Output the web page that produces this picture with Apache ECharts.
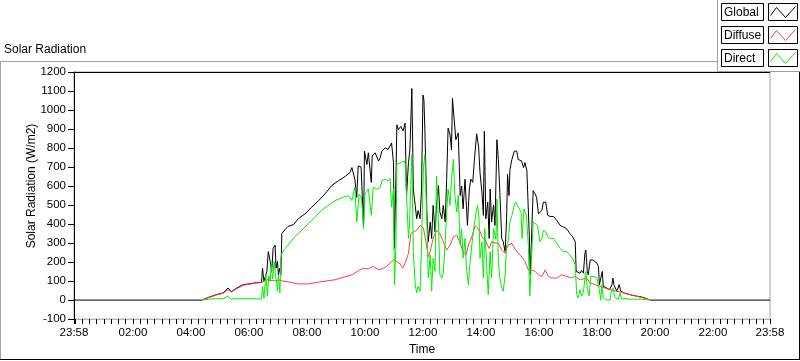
<!DOCTYPE html>
<html><head><meta charset="utf-8">
<script src="https://cdn.jsdelivr.net/npm/echarts@6/dist/echarts.min.js"></script>
<style>html,body{margin:0;padding:0;background:#fff}#c{width:800px;height:361px}</style>
</head><body><div id="c"></div><script>
// Time in minutes since midnight (-2 = 23:58 of previous day)
const globalTime = [-2,262,279,293,307,317,323,335,348,362,376,386,388,391,393,397,400,404,407,410,414,416,419,421,424,426,428,435,441,452,462,476,490,504,517,531,545,559,569,573,579,583,586,592,597,599,604,607,613,615,621,628,631,635,642,648,655,659,661,664,666,669,674,679,683,686,690,693,697,700,704,707,710,714,717,720,722,724,728,731,735,738,741,745,748,752,755,759,762,766,769,772,776,779,781,784,788,793,797,800,803,807,812,816,819,823,826,831,835,838,842,845,847,850,854,857,859,862,866,869,873,876,879,883,886,890,893,895,898,900,904,909,914,917,924,928,931,935,937,940,942,945,948,952,955,959,962,966,969,974,978,983,990,997,1004,1010,1017,1024,1030,1035,1037,1041,1045,1048,1052,1055,1057,1060,1062,1066,1072,1080,1083,1085,1088,1091,1093,1100,1106,1111,1113,1115,1121,1126,1129,1135,1142,1152,1162,1173,1183,1190,1438];
const globalValue = [0,0,17,29,38,64,43,64,81,86,92,93,168,100,107,151,255,203,151,272,289,168,204,133,168,133,350,372,388,397,428,454,489,523,558,602,628,650,671,697,636,541,706,700,385,784,714,775,619,758,775,732,745,784,801,792,827,723,272,636,922,896,914,890,931,550,723,792,1113,584,498,428,471,428,584,1079,1052,896,463,307,411,324,498,359,498,602,463,428,498,411,636,905,870,790,1061,1070,844,879,550,600,480,636,393,584,636,620,723,875,810,671,567,446,888,428,515,324,584,411,500,393,844,740,567,324,307,255,428,662,550,688,740,784,784,740,732,697,723,680,541,341,133,140,576,558,541,454,446,471,515,515,446,440,440,419,393,385,376,350,333,307,151,159,142,155,142,246,263,151,133,211,211,194,177,81,90,151,73,64,55,81,116,81,47,81,47,38,33,26,21,16,7,0,0];

const diffuseTime = [262,279,293,307,317,323,335,348,362,376,386,391,397,404,410,416,424,430,441,462,483,504,538,573,593,607,617,628,635,642,652,659,666,673,678,683,690,695,700,707,714,717,721,726,731,735,741,748,755,762,769,776,783,790,797,803,809,814,821,828,833,838,842,850,857,862,869,876,883,890,896,904,910,917,924,931,938,945,952,959,966,973,979,986,997,1007,1017,1028,1035,1045,1059,1066,1076,1086,1100,1114,1128,1142,1155,1169,1183,1190];
const diffuseValue = [0,15,27,36,55,42,60,78,84,90,92,100,108,102,104,100,106,100,96,85,85,95,107,133,165,165,177,159,165,172,194,211,203,190,168,194,246,350,359,367,393,402,380,307,229,255,324,367,350,307,263,289,333,341,298,255,237,289,333,390,380,362,333,307,272,307,300,300,263,246,289,298,272,246,229,203,159,159,151,133,125,159,125,116,116,133,125,116,125,107,116,90,81,73,60,50,43,33,24,16,7,0];

const directTime = [262,279,293,307,317,323,335,348,362,376,386,388,391,395,398,401,404,406,409,412,415,417,419,421,424,426,428,435,441,445,455,469,483,497,510,524,538,555,566,573,579,583,588,593,597,600,607,613,617,624,631,636,642,648,652,655,659,661,664,666,669,676,681,683,686,690,692,697,700,704,707,710,714,717,721,724,728,731,735,738,741,745,748,752,755,759,762,766,769,772,776,779,783,786,790,793,797,800,803,807,810,814,817,821,826,830,833,836,838,842,845,848,852,855,859,862,866,871,873,876,879,883,886,890,893,896,900,904,909,912,917,923,925,929,934,938,941,945,948,952,957,962,966,969,974,978,983,990,997,1004,1010,1017,1024,1031,1035,1038,1041,1045,1048,1052,1055,1057,1060,1064,1067,1072,1080,1085,1088,1090,1093,1100,1107,1110,1113,1117,1124,1128,1131,1138,1145,1169,1183,1190];
const directValue = [0,5,8,7,22,5,7,7,7,7,5,74,10,133,20,128,99,185,110,203,130,99,47,130,38,220,246,272,290,298,333,367,402,437,471,498,523,541,550,523,593,411,558,532,376,558,584,446,593,584,590,632,636,628,640,489,584,81,289,714,723,726,732,720,550,324,393,766,255,81,38,73,47,289,697,766,428,116,237,47,220,151,653,411,133,116,140,307,463,584,498,636,740,550,463,550,289,376,220,324,168,81,185,289,393,463,498,430,220,307,116,376,168,29,255,116,376,320,532,203,116,64,47,133,289,307,411,446,498,515,489,463,324,480,446,289,21,30,411,419,393,307,324,367,359,333,324,324,298,272,255,255,237,212,185,29,12,55,20,40,116,151,60,21,125,125,116,50,0,81,12,0,0,47,64,15,3,38,5,8,5,5,3,0];

const majorTicks = [-2,120,240,360,480,600,720,840,960,1080,1200,1320,1438];
const allTicks = majorTicks.slice();
for (let m = 0; m < 1438; m += 15) { if (m % 120 !== 0 || m === 0) allTicks.push(m); }
allTicks.sort((a,b)=>a-b);

const FONT = '"Liberation Sans", Arial, sans-serif';
const GREEN = '#00f000', RED = '#ff4040', BLACK = '#000';
function pad(n){ return (n < 10 ? '0' : '') + n; }
function fmt(m){ const t = ((Math.round(m) % 1440) + 1440) % 1440; return pad(Math.floor(t/60)) + ':' + pad(t % 60); }
function pairs(ts, vs){ return ts.map((t,i)=>[t, vs[i]]); }

function legendItem(top, label, color){
  const bx = 721.5, sx = 768.5, h = 17;
  const pts = [[2,12],[8,4],[17,14],[27,3]].map(p=>[sx + p[0], top + p[1]]);
  return [
    {type:'rect', z:101, shape:{x:bx, y:top, width:42, height:h}, style:{fill:'#fff', stroke:'#000', lineWidth:1}},
    {type:'text', z:102, x:724, y:top + h/2 + 0.5, style:{text:label, font:'12px ' + FONT, fill:'#000', textAlign:'left', textVerticalAlign:'middle', align:'left', verticalAlign:'middle'}},
    {type:'rect', z:101, shape:{x:sx, y:top, width:29, height:h}, style:{fill:'#fff', stroke:'#000', lineWidth:1}},
    {type:'polyline', z:102, shape:{points:pts}, style:{stroke:color, lineWidth:1, fill:null}}
  ];
}

const chart = echarts.init(document.getElementById('c'), null, {renderer:'canvas'});
chart.setOption({
  animation: false,
  backgroundColor: '#fff',
  grid: {left:74, right:30, top:72, bottom:39, containLabel:false, show:true, borderColor:'#a0a0a0', borderWidth:1, backgroundColor:'transparent'},
  xAxis: {type:'value', min:-2, max:1438, position:'bottom',
     axisLine:{show:true, onZero:false, lineStyle:{color:'#b8b8b8', width:1}}, splitLine:{show:false},
     axisTick:{show:true, customValues:allTicks, length:5, lineStyle:{color:'#000', width:1}},
     axisLabel:{show:true, customValues:majorTicks, formatter:fmt, margin:8, fontSize:11.5, fontFamily:FONT, color:'#000'},
     name:'Time', nameLocation:'middle', nameGap:24, nameTextStyle:{fontSize:12, fontFamily:FONT, color:'#000'}},
  yAxis: {type:'value', min:-100, max:1200, interval:100, position:'left',
     axisLine:{show:true, onZero:false, lineStyle:{color:'#000', width:1}},
     axisTick:{show:true, length:6, lineStyle:{color:'#000'}},
     axisLabel:{margin:8, fontSize:11.5, fontFamily:FONT, color:'#000', formatter:(v)=>String(v)},
     splitLine:{show:false}},
  series: [
    {name:'Global', type:'line', data:pairs(globalTime, globalValue), showSymbol:false, symbol:'none', z:2, lineStyle:{color:BLACK, width:1}, itemStyle:{color:BLACK}},
    {name:'Diffuse', type:'line', data:pairs(diffuseTime, diffuseValue), showSymbol:false, symbol:'none', z:3, lineStyle:{color:RED, width:1}, itemStyle:{color:RED}},
    {name:'Direct', type:'line', data:pairs(directTime, directValue), showSymbol:false, symbol:'none', z:4, lineStyle:{color:GREEN, width:1}, itemStyle:{color:GREEN}}
  ],
  graphic: [
    {type:'line', z:50, shape:{x1:74, y1:72.5, x2:770, y2:72.5}, style:{stroke:'#000', lineWidth:1}},
    {type:'line', z:50, shape:{x1:0, y1:61.5, x2:800, y2:61.5}, style:{stroke:'#a0a0a0', lineWidth:1}},
    {type:'line', z:50, shape:{x1:0.5, y1:61.5, x2:0.5, y2:360}, style:{stroke:'#a0a0a0', lineWidth:1}},
    {type:'line', z:50, shape:{x1:0, y1:359.5, x2:800, y2:359.5}, style:{stroke:'#000', lineWidth:1}},
    {type:'line', z:50, shape:{x1:799.5, y1:61.5, x2:799.5, y2:360}, style:{stroke:'#000', lineWidth:1}},
    {type:'text', z:50, x:4, y:50, style:{text:'Solar Radiation', font:'12px ' + FONT, fill:'#000', textAlign:'left', textVerticalAlign:'middle', align:'left', verticalAlign:'middle'}},
    {type:'text', z:50, x:32, y:186, rotation:Math.PI/2, style:{text:'Solar Radiation (W/m2)', font:'12px ' + FONT, fill:'#000', textAlign:'center', textVerticalAlign:'middle', align:'center', verticalAlign:'middle'}},
    {type:'rect', z:100, shape:{x:717, y:0, width:83, height:72}, style:{fill:'#fff'}},
    {type:'line', z:100, shape:{x1:717.5, y1:0, x2:717.5, y2:72}, style:{stroke:'#a0a0a0', lineWidth:1}},
    {type:'line', z:100, shape:{x1:717, y1:71.5, x2:800, y2:71.5}, style:{stroke:'#a0a0a0', lineWidth:1}}
  ].concat(legendItem(3.5, 'Global', BLACK), legendItem(26.5, 'Diffuse', RED), legendItem(49.5, 'Direct', GREEN))
});
</script></body></html>
